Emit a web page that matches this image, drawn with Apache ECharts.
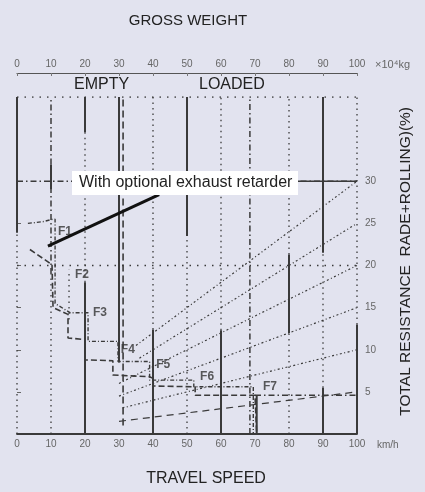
<!DOCTYPE html>
<html><head><meta charset="utf-8">
<script src="https://cdn.jsdelivr.net/npm/echarts@6/dist/echarts.min.js"></script>
<style>html,body{margin:0;padding:0;background:#e2e3ef}#c{width:425px;height:492px}</style>
</head><body><div id="c"></div>
<script>
// ---- data (speed km/h, weight x10^4 kg, resistance %) ----
const speedTicks = [0,10,20,30,40,50,60,70,80,90,100];
const weightTicks = [0,10,20,30,40,50,60,70,80,90,100];
const resistanceTicks = [5,10,15,20,25,30];
// resistance lines: [% reached at 100, start speed]
const resistanceLines = [[30,35],[25,36],[20,30],[15,30],[10,31],[5,30]];
// vertical guide segments: [speed, fromPct, toPct]
const solidV = [[0,23.9,40],[10,29,32],[20,35.8,40],[20,0,18],[30,8.5,40],[40,0,12.4],[50,23.5,40],[60,0,12.3],[70.5,0,4.6],[80,12,21.3],[90,21.5,40],[90,0,5.5],[100,0,13]];
const dottedV = [[0,0,23.9],[20,18,35.8],[40,12.4,40],[50,0,23.5],[60,12.3,40],[80,0,12],[80,21.3,40],[90,5.5,21.5],[100,13,40],[15.3,13.6,19.5],[10,0,19]];
const dashDotV = [[10,19,29],[10,32,40],[68.5,0,40]];
const dashedV = [[31.2,1,40]];
// horizontal guides: [pct, fromSpeed, toSpeed]
const dottedH = [[40,0,100],[20,0,100]];
const dashDotH = [[30,0,100],[4.6,70,100]];
const solidH = [[30,82,100]];
// retarder curves (speed, %)
const curveLower = [[3.8,21.9],[10.3,20.1],[10.6,20],[10.6,15],[15,14.2],[15,11.4],[20,11.2],[20,8.8],[28.2,8.7],[28.2,7.0],[39,6.8],[40,6.6],[40,5.7],[52.4,5.6],[52.4,4.6],[70,4.6],[70.5,0]];
const curveUpper = [[3.2,25],[7.6,25.2],[10.6,25.5],[11.2,25.5],[11.2,15.5],[15.6,14.4],[20.9,14.4],[20.9,11],[29.7,11],[29.7,8.6],[39,8.6],[39,6.4],[52,6.4],[52,5.6],[69.5,5.6],[69.5,0]];
const gearLabels = [['F1',14.1,24.0],['F2',19.1,18.9],['F3',24.4,14.4],['F4',32.6,10],['F5',43,8.2],['F6',55.9,6.8],['F7',74.4,5.6]];
const pointer = [[9.1,22.3],[41.8,28.4]];

const INK = '#3a3a3a';
const FONT = 'Liberation Sans';
const series = [];
function seg(pts, type, width, color){
  series.push({type:'line', data:pts, symbol:'none', silent:true, animation:false,
    lineStyle:{color:color||INK, width:width, type:type}});
}
const DASHDOT = [6,3,1.5,3];
solidV.forEach(s=>seg([[s[0],s[1]],[s[0],s[2]]],'solid',2));
dottedV.forEach(s=>seg([[s[0],s[1]],[s[0],s[2]]],[1.5,4],1.3));
dashDotV.forEach(s=>seg([[s[0],s[1]],[s[0],s[2]]],DASHDOT,1.5));
dashedV.forEach(s=>seg([[s[0],s[1]],[s[0],s[2]]],[7,4],1.6));
dottedH.forEach(s=>seg([[s[1],s[0]],[s[2],s[0]]],[1.5,6],1.3));
dashDotH.forEach(s=>seg([[s[1],s[0]],[s[2],s[0]]],DASHDOT,1.3));
solidH.forEach(s=>seg([[s[1],s[0]],[s[2],s[0]]],'solid',1.6));
resistanceLines.forEach(r=>seg([[r[1],r[0]*r[1]/100],[100,r[0]]], r[0]===5?[7,5]:[2,2.5,1,2.5],1.2));
seg(curveLower,[6,3],1.6);
seg(curveUpper,[4,2,1,2],1.4);
seg(pointer,'solid',3,'#111');
series.push({type:'scatter', data:gearLabels.map(g=>({value:[g[1],g[2]],name:g[0]})), symbolSize:0, silent:true,
  label:{show:true, formatter:p=>p.name, position:'inside', fontFamily:FONT, fontWeight:'bold', fontSize:12, color:'#333'}});

const chart = echarts.init(document.getElementById('c'));
chart.setOption({
  backgroundColor:'#e2e3ef',
  animation:false,
  grid:{left:17, right:68, top:97, bottom:58},
  xAxis:[
    {type:'value', position:'bottom', min:0, max:100, interval:10, name:'km/h', nameGap:20,
     nameTextStyle:{fontFamily:FONT, fontSize:10, color:'#666', verticalAlign:'top', padding:[6,0,0,0]},
     axisLine:{show:true, lineStyle:{color:INK, width:1.8}}, axisTick:{show:false}, splitLine:{show:false},
     axisLabel:{margin:5, fontFamily:FONT, fontSize:10, color:'#666', formatter:v=>speedTicks.includes(v)?String(v):''}},
    {type:'value', position:'top', offset:24, min:0, max:100, interval:10, name:'×10⁴kg', nameGap:18,
     nameTextStyle:{fontFamily:FONT, fontSize:11, color:'#666', verticalAlign:'bottom', padding:[0,0,3,0]},
     axisLine:{show:true, lineStyle:{color:'#555', width:1.2}}, axisTick:{show:true, inside:true, length:3, lineStyle:{color:'#777'}}, splitLine:{show:false},
     axisLabel:{margin:4, fontFamily:FONT, fontSize:10, color:'#666', formatter:v=>weightTicks.includes(v)?String(v):''}}
  ],
  yAxis:{type:'value', position:'right', min:0, max:40, interval:5,
    axisLine:{show:false}, splitLine:{show:false},
    axisTick:{show:true, length:4, customValues:resistanceTicks, lineStyle:{color:'#666'}},
    axisLabel:{margin:8, customValues:resistanceTicks, fontFamily:FONT, fontSize:10, color:'#666'}},
  graphic:[
    {type:'text', x:188, y:13, z:100, style:{text:'GROSS WEIGHT', align:'center', fontFamily:FONT, fontSize:15, fill:'#222'}},
    {type:'text', x:206, y:471, z:100, style:{text:'TRAVEL SPEED', align:'center', fontFamily:FONT, fontSize:16, fill:'#222'}},
    {type:'text', x:74, y:77, z:100, style:{text:'EMPTY', fontFamily:FONT, fontSize:16, fill:'#222'}},
    {type:'text', x:199, y:77, z:100, style:{text:'LOADED', fontFamily:FONT, fontSize:16, fill:'#222'}},
    {type:'text', left:398, top:107, rotation:Math.PI/2, z:100,
     style:{text:'TOTAL RESISTANCE  RADE+ROLLING)(%)', fontFamily:FONT, fontSize:15.5, fill:'#222'}},
    {type:'rect', left:72, top:171, z:100, shape:{width:226,height:24}, style:{fill:'#ffffff'}},
    {type:'text', left:79, top:175, z:101, style:{text:'With optional exhaust retarder', fontFamily:FONT, fontSize:16, fill:'#222'}}
  ],
  series:series
});
</script></body></html>
